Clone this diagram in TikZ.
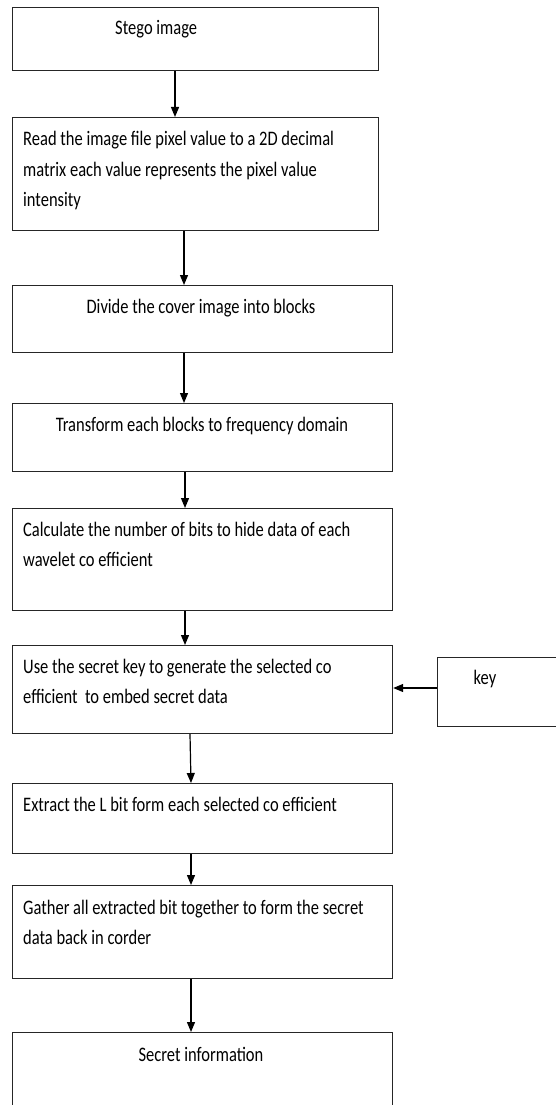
\documentclass[tikz,border=0pt]{standalone}
\usepackage{fontspec}
\usepackage{graphicx}
\setmainfont{Carlito}
\usetikzlibrary{arrows.meta}
\newcommand{\tallt}[1]{\scalebox{1}[1.25]{#1}}
\begin{document}
\begin{tikzpicture}[x=1pt,y=-1pt,
  box/.style={draw=black!85,line width=1.2pt,rectangle,inner sep=0pt},
  arr/.style={line width=1.2pt,-{Triangle[length=10pt,width=8pt]}},
  txt/.style={inner sep=0pt,font=\fontsize{16.5}{30}\selectfont}]
\useasboundingbox (0,0) rectangle (556,1105);
\clip (0,0) rectangle (556,1105);
% boxes
\node[box,minimum width=366pt,minimum height=63pt,anchor=north west] (b1) at (12,7) {};
\node[box,minimum width=366pt,minimum height=113pt,anchor=north west] (b2) at (12,117) {};
\node[box,minimum width=380pt,minimum height=67pt,anchor=north west] (b3) at (12,285) {};
\node[box,minimum width=380pt,minimum height=68pt,anchor=north west] (b4) at (12,403) {};
\node[box,minimum width=380pt,minimum height=102pt,anchor=north west] (b5) at (12,508) {};
\node[box,minimum width=380pt,minimum height=88pt,anchor=north west] (b6) at (12,645) {};
\node[box,minimum width=140pt,minimum height=69pt,anchor=north west] (bk) at (437,657) {};
\node[box,minimum width=380pt,minimum height=70pt,anchor=north west] (b7) at (12,783) {};
\node[box,minimum width=380pt,minimum height=93pt,anchor=north west] (b8) at (12,885) {};
\node[box,minimum width=380pt,minimum height=90pt,anchor=north west] (b9) at (12,1032) {};
% texts
\node[txt,anchor=base west] (t1) at (115,35) {\tallt{Stego image}};
\node[txt,anchor=base west] (t2a) at (23,146) {\tallt{Read the image file pixel value to a 2D decimal}};
\node[txt,anchor=base west] (t2b) at (23,176) {\tallt{matrix each value represents the pixel value}};
\node[txt,anchor=base west] (t2c) at (23,206) {\tallt{intensity}};
\node[txt,anchor=base] (t3) at (201,313) {\tallt{Divide the cover image into blocks}};
\node[txt,anchor=base] (t4) at (202,431) {\tallt{Transform each blocks to frequency domain}};
\node[txt,anchor=base west] (t5a) at (23,536) {\tallt{Calculate the number of bits to hide data of each}};
\node[txt,anchor=base west] (t5b) at (23,566) {\tallt{wavelet co efficient}};
\node[txt,anchor=base west] (t6a) at (23,673) {\tallt{Use the secret key to generate the selected co}};
\node[txt,anchor=base west] (t6b) at (23,703) {\tallt{efficient\ \ to embed secret data}};
\node[txt,anchor=base] (tk) at (485,684) {\tallt{key}};
\node[txt,anchor=base west] (t7) at (23,811) {\tallt{Extract the L bit form each selected co efficient}};
\node[txt,anchor=base west] (t8a) at (23,914) {\tallt{Gather all extracted bit together to form the secret}};
\node[txt,anchor=base west] (t8b) at (23,944) {\tallt{data back in corder}};
\node[txt,anchor=base] (t9) at (201,1061) {\tallt{Secret information}};
% arrows
\draw[arr] ([xshift=163pt]b1.south west) -- ([xshift=163pt]b2.north west);
\draw[arr] ([xshift=172pt]b2.south west) -- ([xshift=172pt]b3.north west);
\draw[arr] ([xshift=172pt]b3.south west) -- ([xshift=172pt]b4.north west);
\draw[arr] ([xshift=173pt]b4.south west) -- ([xshift=173pt]b5.north west);
\draw[arr] ([xshift=173pt]b5.south west) -- ([xshift=173pt]b6.north west);
\draw[arr] ([xshift=178pt]b6.south west) -- ([xshift=179pt]b7.north west);
\draw[arr] ([xshift=179pt]b7.south west) -- ([xshift=179pt]b8.north west);
\draw[arr] ([xshift=179pt]b8.south west) -- ([xshift=179pt]b9.north west);
\draw[arr] ([yshift=-31pt]bk.north west) -- ([yshift=-43pt]b6.north east);
\end{tikzpicture}
\end{document}
